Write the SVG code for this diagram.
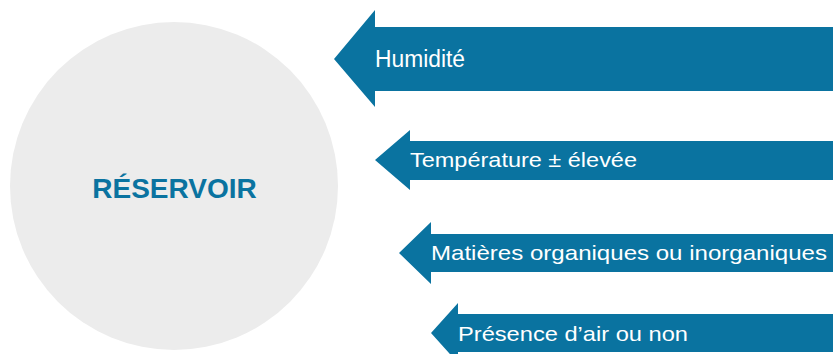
<svg xmlns="http://www.w3.org/2000/svg" width="833" height="354" viewBox="0 0 833 354">
<style>
.arrow{fill:#0A73A0}
.lbl{font-family:"Liberation Sans",Arial,sans-serif;font-size:21px;fill:#ffffff}
.big{font-size:23px}
.title{font-family:"Liberation Sans",Arial,sans-serif;font-size:28px;font-weight:bold;fill:#0A73A0}
</style>
<rect width="833" height="354" fill="#ffffff"/>
<g id="reservoir">
<circle cx="174" cy="186" r="164" fill="#ECECEC"/>
<text class="title" x="174.5" y="198" text-anchor="middle">RÉSERVOIR</text>
</g>
<g id="connectors">
<g id="arrow-humidite">
<polygon class="arrow" points="334,59 375,10 375,27 833,27 833,91 375,91 375,107"/>
<text class="lbl big" x="375" y="67" textLength="90" lengthAdjust="spacingAndGlyphs">Humidité</text>
</g>
<g id="arrow-temperature">
<polygon class="arrow" points="375,160 410,130 410,141 833,141 833,180 410,180 410,190"/>
<text class="lbl" x="410" y="167" textLength="227" lengthAdjust="spacingAndGlyphs">Température ± élevée</text>
</g>
<g id="arrow-matieres">
<polygon class="arrow" points="399,253 431,222 431,234 833,234 833,272 431,272 431,284"/>
<text class="lbl" x="431" y="260" textLength="396" lengthAdjust="spacingAndGlyphs">Matières organiques ou inorganiques</text>
</g>
<g id="arrow-presence">
<polygon class="arrow" points="431,333 458,303 458,314 833,314 833,352 458,352 458,363"/>
<text class="lbl" x="458" y="341" textLength="230" lengthAdjust="spacingAndGlyphs">Présence d’air ou non</text>
</g>
</g>
</svg>
